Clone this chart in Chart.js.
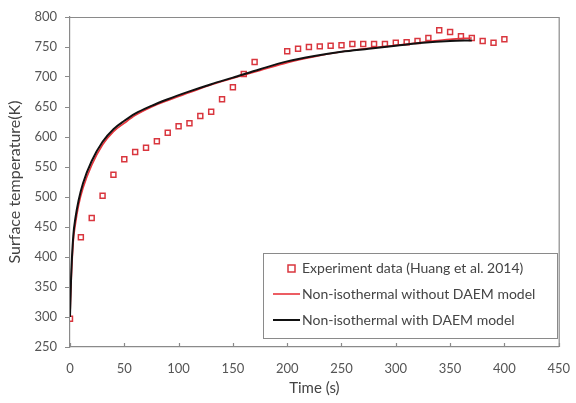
<!DOCTYPE html>
<html>
<head>
<meta charset="utf-8">
<script src="https://cdn.jsdelivr.net/npm/chart.js@4.4.1/dist/chart.umd.min.js"></script>
<style>
  html, body { margin: 0; padding: 0; background: #fff; }
  #wrap { width: 576px; height: 403px; position: relative; }
</style>
</head>
<body>
<div id="wrap"><canvas id="c" width="576" height="403"></canvas></div>
<script>
// ---- Data ----
const expTime = [0, 10, 20, 30, 40, 50, 60, 70, 80, 90, 100, 110, 120, 130, 140, 150, 160, 170,
  200, 210, 220, 230, 240, 250, 260, 270, 280, 290, 300, 310, 320, 330, 340, 350, 360, 370, 380, 390, 400];
const expTemp = [297, 433, 465, 502, 537, 563, 575, 582, 593, 607, 618, 623, 635, 642, 663, 683, 705, 725,
  743, 747, 750, 751, 752, 753, 755, 755, 755, 755, 757, 758, 760, 765, 778, 775, 768, 765, 760, 757, 763];

const noDaemTime = [0, 1, 3, 5, 8, 12, 20, 30, 40, 50, 60, 75, 90, 110, 130, 150, 175, 200, 225, 250, 275, 300, 325, 350, 370];
const noDaemTemp = [300, 355, 425, 455, 487, 515, 553, 587, 609, 623, 636, 650, 661, 674, 687, 698, 711, 724, 734, 742, 748, 753, 758, 763, 765];

const daemTime = [0, 1, 3, 5, 8, 12, 20, 30, 40, 50, 60, 75, 90, 110, 130, 150, 175, 200, 225, 250, 275, 300, 325, 350, 370];
const daemTemp = [300, 365, 435, 465, 495, 523, 560, 592, 613, 627, 639, 652, 663, 676, 688, 699, 713, 726, 735, 742, 747, 752, 757, 760, 761];

const xTickMin = 0, xTickMax = 450, xTickStep = 50;
const yTickMin = 250, yTickMax = 800, yTickStep = 50;

const labels = ['Experiment data (Huang et al. 2014)', 'Non-isothermal without DAEM model', 'Non-isothermal with DAEM model'];

const toXY = (xs, ys) => xs.map((x, i) => ({ x: x, y: ys[i] }));

const FONT = 'Lato, "Open Sans", "Liberation Sans", sans-serif';
const AXIS_COLOR = '#8a8a8a';
const TEXT_COLOR = '#555555';

const frameAndLegend = {
  id: 'frameAndLegend',
  afterDraw(chart) {
    const ctx = chart.ctx;
    const a = chart.chartArea;
    const xs = chart.scales.x;
    ctx.save();
    // top and right frame lines
    ctx.strokeStyle = AXIS_COLOR;
    ctx.lineWidth = 1.2;
    ctx.beginPath();
    ctx.moveTo(a.left, a.top + 0.5);
    ctx.lineTo(a.right + 0.5, a.top + 0.5);
    ctx.lineTo(a.right + 0.5, a.bottom);
    ctx.stroke();
    // x-axis inner tick marks
    ctx.beginPath();
    for (let v = xTickMin; v <= xTickMax; v += xTickStep) {
      const px = Math.round(xs.getPixelForValue(v)) + 0.5;
      ctx.moveTo(px, a.bottom);
      ctx.lineTo(px, a.bottom - 4);
    }
    ctx.stroke();

    // legend box
    const bx = 263, by = 253, bw = 294, bh = 85;
    ctx.fillStyle = '#ffffff';
    ctx.fillRect(bx, by, bw, bh);
    ctx.strokeStyle = '#8a8a8a';
    ctx.lineWidth = 1;
    ctx.strokeRect(bx + 0.5, by + 0.5, bw, bh);
    const rows = [268, 294, 320];
    ctx.font = '14px ' + FONT;
    ctx.textBaseline = 'middle';
    ctx.textAlign = 'left';
    chart.data.datasets.forEach((ds, i) => {
      const y = rows[i];
      if (i === 0) {
        ctx.strokeStyle = ds.borderColor;
        ctx.fillStyle = ds.backgroundColor;
        ctx.lineWidth = 1.5;
        ctx.fillRect(288, y - 3, 7, 7);
        ctx.strokeRect(288, y - 3, 7, 7);
      } else {
        ctx.strokeStyle = ds.borderColor;
        ctx.lineWidth = ds.borderWidth;
        ctx.beginPath();
        ctx.moveTo(273, y);
        ctx.lineTo(300, y);
        ctx.stroke();
      }
      ctx.fillStyle = '#444444';
      ctx.fillText(ds.label, 302, y);
    });
    ctx.restore();
  }
};

new Chart(document.getElementById('c'), {
  type: 'scatter',
  data: {
    datasets: [
      {
        label: labels[0],
        data: toXY(expTime, expTemp),
        showLine: false,
        pointStyle: 'rect',
        pointRadius: 3.5,
        pointBorderWidth: 1.5,
        borderColor: '#d9363e',
        backgroundColor: '#ffffff',
        order: 3
      },
      {
        label: labels[1],
        data: toXY(noDaemTime, noDaemTemp),
        showLine: true,
        pointRadius: 0,
        borderColor: '#e8343c',
        borderWidth: 1.6,
        cubicInterpolationMode: 'monotone',
        order: 2
      },
      {
        label: labels[2],
        data: toXY(daemTime, daemTemp),
        showLine: true,
        pointRadius: 0,
        borderColor: '#111111',
        borderWidth: 2,
        cubicInterpolationMode: 'monotone',
        order: 1
      }
    ]
  },
  options: {
    responsive: false,
    animation: false,
    devicePixelRatio: 1,
    layout: { padding: { top: 17, right: 11, left: 0, bottom: 0 } },
    plugins: {
      legend: { display: false },
      tooltip: { enabled: false }
    },
    scales: {
      x: {
        type: 'linear',
        min: xTickMin,
        max: xTickMax,
        afterFit(s) { s.height = 56; },
        ticks: {
          stepSize: xTickStep,
          color: TEXT_COLOR,
          font: { family: FONT, size: 13 },
          padding: 6,
          maxRotation: 0
        },
        grid: { display: false },
        border: { display: true, color: AXIS_COLOR, width: 1.2 },
        title: {
          display: true,
          text: 'Time (s)',
          color: '#444444',
          font: { family: FONT, size: 15 },
          padding: { top: 0, bottom: 6 }
        }
      },
      y: {
        type: 'linear',
        min: yTickMin,
        max: yTickMax,
        afterFit(s) { s.width = 70; },
        ticks: {
          stepSize: yTickStep,
          color: TEXT_COLOR,
          font: { family: FONT, size: 13 },
          padding: 8
        },
        grid: {
          display: true,
          drawOnChartArea: false,
          drawTicks: true,
          tickLength: 5,
          color: AXIS_COLOR
        },
        border: { display: true, color: AXIS_COLOR, width: 1.2 },
        title: {
          display: true,
          text: 'Surface temperature(K)',
          color: '#444444',
          font: { family: FONT, size: 16 },
          padding: { top: 5, bottom: 0 }
        }
      }
    }
  },
  plugins: [frameAndLegend]
});
</script>
</body>
</html>
